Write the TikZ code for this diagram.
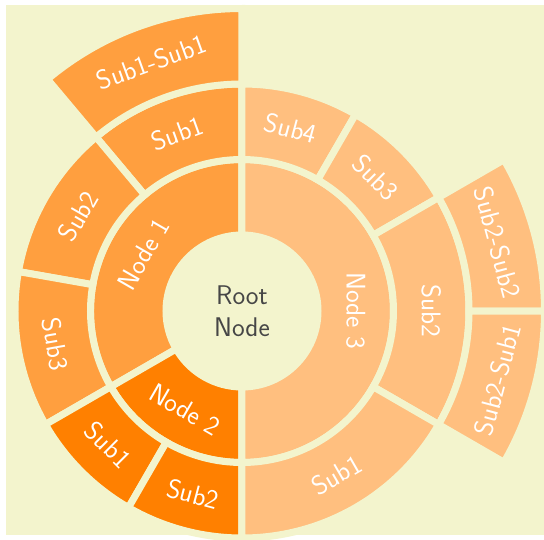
\documentclass[tikz,border=0pt]{standalone}
\definecolor{bgc}{HTML}{F3F4CD}
\definecolor{cA}{RGB}{255,159,63}
\definecolor{cB}{RGB}{255,128,0}
\definecolor{cC}{RGB}{255,191,127}
\definecolor{txtc}{HTML}{464646}
\newcommand\sunsect[5]{%
  \draw[sector, fill=#5] (#1:#3) arc[start angle=#1, end angle=#2, radius=#3]
    -- (#2:#4) arc[start angle=#2, end angle=#1, radius=#4] -- cycle;}
\tikzset{
  sector/.style={draw=bgc, line width=7pt},
  lab/.style={text=white, font=\sffamily\fontsize{27}{32}\selectfont, inner sep=0pt},
}
\begin{document}
\begin{tikzpicture}[x=1pt,y=1pt]
\useasboundingbox (-242,-228) rectangle (302,311);
\fill[bgc] (-236,-224) rectangle (302,306);
% ring 1
\sunsect{90}{210}{76}{151.5}{cA}
\sunsect{210}{270}{76}{151.5}{cB}
\sunsect{-90}{90}{76}{151.5}{cC}
% ring 2
\sunsect{90}{130}{151.5}{227}{cA}
\sunsect{130}{170}{151.5}{227}{cA}
\sunsect{170}{210}{151.5}{227}{cA}
\sunsect{210}{240}{151.5}{227}{cB}
\sunsect{240}{270}{151.5}{227}{cB}
\sunsect{60}{90}{151.5}{227}{cC}
\sunsect{30}{60}{151.5}{227}{cC}
\sunsect{-30}{30}{151.5}{227}{cC}
\sunsect{-90}{-30}{151.5}{227}{cC}
% ring 3
\sunsect{90}{130}{227}{302.5}{cA}
\sunsect{0}{30}{227}{302.5}{cC}
\sunsect{-30}{0}{227}{302.5}{cC}
% root
\fill[bgc] (0,0) circle[radius=76];
\node[lab, text=txtc, align=center] (root) at (0,0) {Root\\Node};
% ring 1 labels
\node[lab, rotate=60] (n1) at (150:113.75) {Node 1};
\node[lab, rotate=-30] (n2) at (240:113.75) {Node 2};
\node[lab, rotate=-90] (n3) at (0:113.75) {Node 3};
% ring 2 labels
\node[lab, rotate=20] (n1s1) at (110:189.25) {Sub1};
\node[lab, rotate=60] (n1s2) at (150:189.25) {Sub2};
\node[lab, rotate=-80] (n1s3) at (190:189.25) {Sub3};
\node[lab, rotate=-45] (n2s1) at (225:189.25) {Sub1};
\node[lab, rotate=-15] (n2s2) at (255:189.25) {Sub2};
\node[lab, rotate=-15] (n3s4) at (75:189.25) {Sub4};
\node[lab, rotate=-45] (n3s3) at (45:189.25) {Sub3};
\node[lab, rotate=-90] (n3s2) at (0:189.25) {Sub2};
\node[lab, rotate=30] (n3s1) at (-60:189.25) {Sub1};
% ring 3 labels
\node[lab, rotate=20] (n1s1s1) at (110:264.75) {Sub1-Sub1};
\node[lab, rotate=-75] (n3s2s2) at (15:264.75) {Sub2-Sub2};
\node[lab, rotate=75] (n3s2s1) at (-15:264.75) {Sub2-Sub1};
\end{tikzpicture}
\end{document}
